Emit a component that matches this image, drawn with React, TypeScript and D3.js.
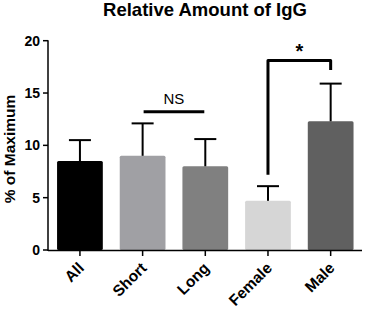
import React from "react";
import * as d3 from "d3";

const categories = ["All", "Short", "Long", "Female", "Male"];
const means = [8.5, 9.0, 8.0, 4.7, 12.3];
const errors = [2.0, 3.1, 2.6, 1.4, 3.6];
const barColors = ["#000000", "#a0a0a4", "#808080", "#d6d6d6", "#606060"];
const yTicks = [0, 5, 10, 15, 20];

// significance annotations
const nsPair = ["Short", "Long"];
const nsLevel = 13.2;
const starPair = ["Female", "Male"];
const starLevels = { top: 18.1, left: 7.2, right: 17.2 };

const W = 368;
const H = 310;
const font = "'Liberation Sans', Arial, sans-serif";

const App = () => {
  const x = d3
    .scaleBand()
    .domain(categories)
    .range([48.6, 362])
    .paddingInner(0.27)
    .paddingOuter(0.135);
  const y = d3.scaleLinear().domain([0, 20]).range([250, 40.7]);
  const cx = (c) => x(c) + x.bandwidth() / 2;
  const axisX = 48;
  const capW = 22;

  return (
    <svg
      width={W}
      height={H}
      style={{ position: "absolute", left: 0, top: 0, background: "#fff" }}
      fontFamily={font}
    >
      <text x={205} y={16} textAnchor="middle" fontSize={18.5} fontWeight="bold">
        Relative Amount of IgG
      </text>

      {/* bars */}
      {categories.map((c, i) => (
        <rect
          key={c}
          x={x(c)}
          y={y(means[i])}
          width={x.bandwidth()}
          height={y(0) - y(means[i])}
          fill={barColors[i]}
          rx={1.5}
        />
      ))}

      {/* upper error bars */}
      {categories.map((c, i) => (
        <g key={c} stroke="#000" strokeWidth={2}>
          <line x1={cx(c)} x2={cx(c)} y1={y(means[i])} y2={y(means[i] + errors[i])} />
          <line
            x1={cx(c) - capW / 2}
            x2={cx(c) + capW / 2}
            y1={y(means[i] + errors[i])}
            y2={y(means[i] + errors[i])}
          />
        </g>
      ))}

      {/* y axis */}
      <line x1={axisX} x2={axisX} y1={y(20) - 0.5} y2={y(0) + 1} stroke="#000" strokeWidth={1.5} />
      {yTicks.map((t) => (
        <g key={t}>
          <line x1={axisX - 5} x2={axisX} y1={y(t)} y2={y(t)} stroke="#000" strokeWidth={1.5} />
          <text
            x={axisX - 8}
            y={y(t)}
            dy="0.35em"
            textAnchor="end"
            fontSize={14}
            fontWeight="bold"
          >
            {t}
          </text>
        </g>
      ))}
      <text
        transform={`translate(15,149) rotate(-90)`}
        textAnchor="middle"
        fontSize={15.5}
        fontWeight="bold"
      >
        % of Maximum
      </text>

      {/* x axis */}
      <line x1={axisX} x2={362} y1={y(0) + 0.5} y2={y(0) + 0.5} stroke="#000" strokeWidth={1.5} />
      {categories.map((c) => (
        <g key={c}>
          <line x1={cx(c)} x2={cx(c)} y1={y(0)} y2={y(0) + 6} stroke="#000" strokeWidth={1.5} />
          <text
            transform={`translate(${cx(c) + 5},${y(0) + 19}) rotate(-45)`}
            textAnchor="end"
            fontSize={15.5}
            fontWeight="bold"
          >
            {c}
          </text>
        </g>
      ))}

      {/* NS */}
      <line
        x1={cx(nsPair[0]) + 1}
        x2={cx(nsPair[1]) - 1}
        y1={y(nsLevel)}
        y2={y(nsLevel)}
        stroke="#000"
        strokeWidth={3}
      />
      <text
        x={(cx(nsPair[0]) + cx(nsPair[1])) / 2}
        y={y(nsLevel) - 8}
        textAnchor="middle"
        fontSize={15}
      >
        NS
      </text>

      {/* significance bracket */}
      <path
        d={`M${cx(starPair[0])},${y(starLevels.left)} V${y(starLevels.top)} H${cx(starPair[1])} V${y(
          starLevels.right
        )}`}
        fill="none"
        stroke="#000"
        strokeWidth={3}
        strokeLinejoin="round"
      />
      <text
        x={(cx(starPair[0]) + cx(starPair[1])) / 2}
        y={y(starLevels.top) - 3}
        textAnchor="middle"
        fontSize={20}
        fontWeight="bold"
      >
        *
      </text>
    </svg>
  );
};

export default App;
